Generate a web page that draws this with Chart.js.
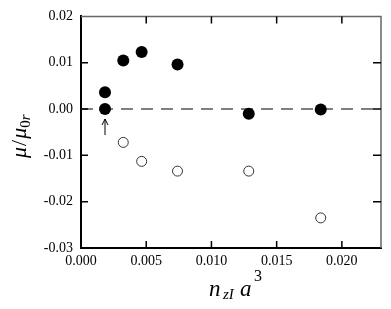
<!DOCTYPE html>
<html>
<head>
<meta charset="utf-8">
<script src="https://cdn.jsdelivr.net/npm/chart.js@4.4.1/dist/chart.umd.min.js"></script>
<style>
  html, body { margin: 0; padding: 0; background: #fff; }
  #wrap { width: 391px; height: 309px; }
</style>
</head>
<body>
<div id="wrap"><canvas id="muChart" width="391" height="309"></canvas></div>
<script>
// data
var xFilled = [0.00184, 0.00184, 0.00324, 0.00465, 0.0074, 0.01286, 0.01838];
var yFilled = [0.0000, 0.0036, 0.0105, 0.0123, 0.0096, -0.0010, -0.0001];
var xOpen = [0.00324, 0.00465, 0.0074, 0.01286, 0.01838];
var yOpen = [-0.0072, -0.0113, -0.0134, -0.0134, -0.0235];
var xTicks = [0, 0.005, 0.010, 0.015, 0.020];
var yTicks = [-0.03, -0.02, -0.01, 0.00, 0.01, 0.02];
var zeroLineX = [0, 0.023];

function pts(xs, ys) {
  return xs.map(function (x, i) { return { x: x, y: ys[i] }; });
}

var serif = "'Liberation Serif', 'DejaVu Serif', serif";

// draw text pieces one after another, returns new x
function piece(c, txt, font, x, y, gap) {
  c.font = font;
  c.fillText(txt, x, y);
  return x + c.measureText(txt).width + (gap || 0);
}

// inward ticks, top/right frame, arrow and axis titles
var framePlugin = {
  id: 'frame',
  afterDraw: function (chart) {
    var c = chart.ctx, a = chart.chartArea;
    var xs = chart.scales.x, ys = chart.scales.y;
    c.save();
    // top and right frame
    c.strokeStyle = '#666';
    c.lineWidth = 1.5;
    c.beginPath();
    c.moveTo(a.left, a.top); c.lineTo(a.right, a.top); c.lineTo(a.right, a.bottom);
    c.stroke();
    // ticks
    c.strokeStyle = '#000';
    c.lineWidth = 1.5;
    c.beginPath();
    xTicks.forEach(function (v) {
      if (v <= 0) return;
      var px = xs.getPixelForValue(v);
      c.moveTo(px, a.bottom); c.lineTo(px, a.bottom - 7);
      c.moveTo(px, a.top); c.lineTo(px, a.top + 7);
    });
    yTicks.forEach(function (v) {
      if (v <= -0.03 || v >= 0.02) return;
      var py = ys.getPixelForValue(v);
      c.moveTo(a.left, py); c.lineTo(a.left + 7, py);
      c.moveTo(a.right, py); c.lineTo(a.right - 8, py);
    });
    c.stroke();
    // arrow under the first point
    var ax = xs.getPixelForValue(xFilled[0]);
    var ay = ys.getPixelForValue(yFilled[0]);
    c.lineWidth = 1;
    c.beginPath();
    c.moveTo(ax, ay + 26); c.lineTo(ax, ay + 10);
    c.moveTo(ax - 3, ay + 16); c.lineTo(ax, ay + 10); c.lineTo(ax + 3, ay + 16);
    c.stroke();

    c.fillStyle = '#000';
    c.textBaseline = 'alphabetic';
    // x title: n_zI a^3
    var base = 296;
    piece(c, 'n', 'italic 23px ' + serif, 209, base);
    piece(c, 'zI', 'italic 15px ' + serif, 223, base + 3);
    piece(c, 'a', 'italic 23px ' + serif, 240, base);
    piece(c, '3', '16px ' + serif, 254, base - 15);

    // y title: mu / mu_0r
    c.translate(26, 158);
    c.rotate(-Math.PI / 2);
    var w = piece(c, '\u03bc', 'italic 22px ' + serif, 0, 0, 1);
    w = piece(c, '/', '22px ' + serif, w, 0, 1);
    w = piece(c, '\u03bc', 'italic 22px ' + serif, w, 0, 0);
    w = piece(c, '0', '15px ' + serif, w, 4, 0);
    piece(c, 'r', 'italic 15px ' + serif, w, 4, 0);
    c.restore();
  }
};

var ctx = document.getElementById('muChart').getContext('2d');

var muChart = new Chart(ctx, {
  type: 'scatter',
  data: {
    datasets: [
      {
        label: 'filled',
        data: pts(xFilled, yFilled),
        backgroundColor: '#000',
        borderColor: '#000',
        pointRadius: 6,
        pointBorderWidth: 0,
        order: 1
      },
      {
        label: 'open',
        data: pts(xOpen, yOpen),
        backgroundColor: '#fff',
        borderColor: '#333',
        pointRadius: 5,
        pointBorderWidth: 1,
        order: 2
      },
      {
        label: 'zero',
        type: 'line',
        data: pts(zeroLineX, [0, 0]),
        borderColor: '#555',
        borderWidth: 1.5,
        borderDash: [12, 8],
        pointRadius: 0,
        order: 3
      }
    ]
  },
  options: {
    responsive: false,
    animation: false,
    layout: { padding: { top: 13, right: 10, left: 0, bottom: 0 } },
    plugins: {
      legend: { display: false },
      tooltip: { enabled: false }
    },
    scales: {
      x: {
        type: 'linear',
        min: 0,
        max: 0.023,
        afterBuildTicks: function (s) { s.ticks = xTicks.map(function (v) { return { value: v }; }); },
        afterFit: function (s) { s.height = 61; },
        grid: { display: false, drawTicks: false },
        border: { display: true, color: '#000', width: 2 },
        ticks: {
          padding: 5,
          color: '#000',
          font: { family: serif, size: 14 },
          maxRotation: 0,
          callback: function (v) { return v.toFixed(3); }
        }
      },
      y: {
        type: 'linear',
        min: -0.03,
        max: 0.02,
        afterBuildTicks: function (s) { s.ticks = yTicks.map(function (v) { return { value: v }; }); },
        afterFit: function (s) { s.width = 81; },
        grid: { display: false, drawTicks: false },
        border: { display: true, color: '#000', width: 2 },
        ticks: {
          padding: 8,
          color: '#000',
          font: { family: serif, size: 14 },
          callback: function (v) { return v.toFixed(2); }
        }
      }
    }
  },
  plugins: [framePlugin]
});
</script>
</body>
</html>
